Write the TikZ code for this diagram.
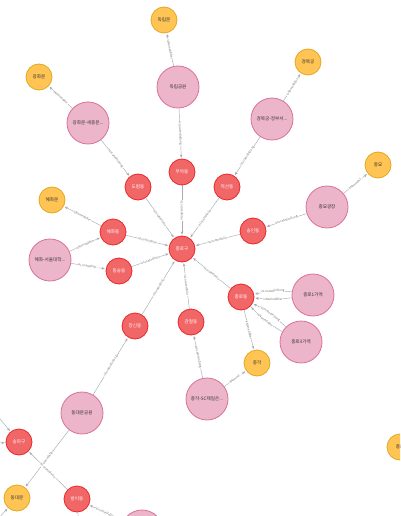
\documentclass[tikz,border=0pt]{standalone}
\usepackage{fontspec}
\newfontfamily\kr{Noto Sans CJK KR}
\usetikzlibrary{arrows.meta,backgrounds}
\definecolor{yfill}{HTML}{FFC454}
\definecolor{ydraw}{HTML}{E0A91E}
\definecolor{rfill}{HTML}{F16667}
\definecolor{rdraw}{HTML}{EB2728}
\definecolor{pfill}{HTML}{ECB5C9}
\definecolor{pdraw}{HTML}{DA7298}
\definecolor{edgec}{HTML}{A5ABB6}
\tikzset{
  base/.style={circle, line width=0.8pt, inner sep=0pt, font=\kr\fontsize{4.6}{5}\selectfont},
  yel/.style={base, fill=yfill, draw=ydraw, minimum size=26pt, text=black!80},
  rdn/.style={base, fill=rfill, draw=rdraw, minimum size=26pt, text=white},
  pnk/.style={base, fill=pfill, draw=pdraw, minimum size=42pt, text=black!80},
  rel/.style={draw=edgec, line width=0.45pt, shorten >=1pt, -{Stealth[length=3.2pt,width=2.6pt]}},
  plain/.style={draw=edgec, line width=0.45pt},
  lab/.style={midway, sloped, fill=white, inner sep=0.4pt, font=\kr\fontsize{3}{3.2}\selectfont, text=black!55}
}
\begin{document}
\begin{tikzpicture}[x=1pt,y=-1pt]
\useasboundingbox (0,0) rectangle (400,516);
\clip (0,0) rectangle (400,516);
% offscreen anchors
\coordinate (o1) at (-22,392);
\coordinate (o2) at (-22,444);
\coordinate (o3) at (-12,530);
\coordinate (o4) at (80,545);
% nodes
\node[yel] (dlm) at (164,20) {독립문};
\node[pnk] (dlg) at (178,87) {독립공원};
\node[yel] (ghm) at (39,77) {광화문};
\node[pnk] (ghs) at (88,123) {광화문-세종문...};
\node[yel] (gbg) at (308,62) {경복궁};
\node[pnk] (gbj) at (272,119) {경복궁-정부서...};
\node[yel] (jm) at (378,165) {종묘};
\node[pnk] (jmg) at (327,207) {종묘광장};
\node[yel] (hhm) at (52,200) {혜화문};
\node[pnk] (hhs) at (50,260) {혜화-서울대학...};
\node[rdn] (mad) at (182,172) {무악동};
\node[rdn] (drd) at (138,187) {도렴동};
\node[rdn] (jsd) at (227,187) {적선동};
\node[rdn] (hhd) at (113,232) {혜화동};
\node[rdn] (dsd) at (119,271) {동숭동};
\node[rdn] (sid) at (253,231) {숭인동};
\node[rdn] (jrg) at (182,249) {종로구};
\node[rdn] (jrd) at (241,297) {종로동};
\node[pnk] (j1) at (313,295) {종로1가역};
\node[pnk] (j3) at (301,342) {종로3가역};
\node[yel] (jg) at (257,363) {종각};
\node[rdn] (csd) at (135,326) {창신동};
\node[rdn] (gcd) at (191,322) {관철동};
\node[pnk] (jgs) at (207,399) {종각-SC제일은...};
\node[pnk] (ddg) at (82,413) {동대문공원};
\node[rdn] (spg) at (19,442) {송파구};
\node[yel] (ddm) at (17,498) {동대문};
\node[rdn] (bid) at (77,499) {방이동};
\node[pnk] (bp) at (142,531) {};
\node[yel] (yr) at (400,447) {종로};
% edges
\begin{scope}[on background layer]
\fill[white] (0,0) rectangle (400,516);
\draw[rel] (dlg) -- node[lab]{isNamedAfter} (dlm);
\draw[rel] (dlg) -- node[lab]{isLocatedInDong} (mad);
\draw[rel] (ghs) -- node[lab]{isNamedAfter} (ghm);
\draw[rel] (ghs) -- node[lab]{isLocatedInDong} (drd);
\draw[rel] (gbj) -- node[lab]{isNamedAfter} (gbg);
\draw[rel] (gbj) -- node[lab]{isLocatedInDong} (jsd);
\draw[rel] (jmg) -- node[lab]{isNamedAf...} (jm);
\draw[rel] (jmg) -- node[lab]{isLocatedInDong} (sid);
\draw[rel] (hhd) -- node[lab]{isNamedAfter} (hhm);
\draw[rel] (hhs) -- node[lab]{isNamedAfter} (hhd);
\draw[rel] (hhs) -- node[lab]{isLocatedInD...} (dsd);
\draw[rel] (mad) -- node[lab]{isLocatedInGu} (jrg);
\draw[rel] (drd) -- node[lab]{isLocatedInGu} (jrg);
\draw[rel] (jsd) -- node[lab]{isLocatedInGu} (jrg);
\draw[rel] (hhd) -- node[lab]{isLocatedInGu} (jrg);
\draw[rel] (dsd) -- node[lab]{isLocatedInGu} (jrg);
\draw[rel] (sid) -- node[lab]{isLocatedInGu} (jrg);
\draw[rel] (jrd) -- node[lab]{isLocatedInGu} (jrg);
\draw[rel] (csd) -- node[lab]{isLocatedInGu} (jrg);
\draw[rel] (gcd) -- node[lab]{isLocatedInGu} (jrg);
\draw[rel] (j1) to[bend right=10] node[lab]{isLocatedInDong} (jrd);
\draw[rel] (j1) to[bend left=6] node[lab]{isNamedAfter} (jrd);
\draw[rel] (j3) to[bend right=8] node[lab]{isLocatedInDong} (jrd);
\draw[rel] (j3) to[bend left=8] node[lab]{isNamedAfter} (jrd);
\draw[rel] (jrd) -- node[lab]{isNamedAfter} (jg);
\draw[rel] (jgs) -- node[lab]{isNamed...} (jg);
\draw[rel] (jgs) -- node[lab]{isLocatedInDong} (gcd);
\draw[rel] (ddg) -- node[lab]{isLocatedInDong} (csd);
\draw[rel] (ddg) -- node[lab]{isNamedAfter} (ddm);
\draw[rel] (bid) -- node[lab]{isLocatedInGu} (spg);
\draw[rel] (bp) -- node[lab]{isLocatedInDong} (bid);
\draw[rel] (o1) -- (spg);
\draw[rel] (o2) -- (spg);
\draw[rel] (o3) -- (ddm);
\draw[plain] (bid) -- (o4);
\end{scope}
\end{tikzpicture}
\end{document}
